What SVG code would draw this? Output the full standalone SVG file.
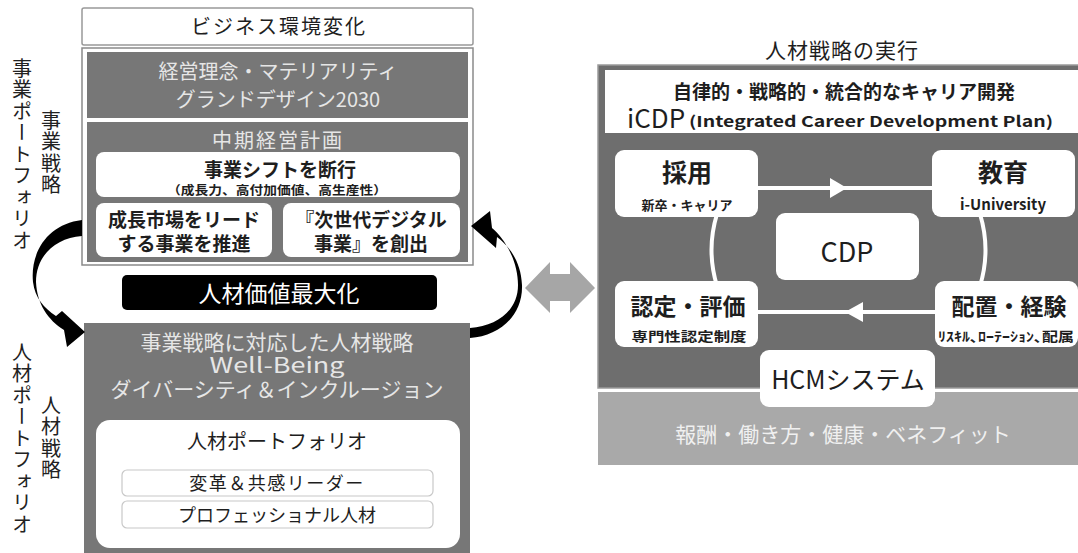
<svg xmlns="http://www.w3.org/2000/svg" width="1078" height="553" viewBox="0 0 1078 553">
<style>
text{font-family:"Noto Sans CJK JP","Noto Sans",sans-serif;}
.c{text-anchor:middle;}
.dk{fill:#777777;}
.lt{fill:#e6e6e6;}
.ink{fill:#1e1e1e;}
.wbox{fill:#ffffff;}
.vt{writing-mode:vertical-rl;font-size:20px;fill:#222;letter-spacing:1.5px;}
.wl{stroke:#ffffff;stroke-width:4;fill:none;}
</style>
<rect width="1078" height="553" fill="#ffffff"/>

<g id="side-labels">
<text class="vt" x="22" y="58">事業ポートフォリオ</text>
<text class="vt" x="51" y="110">事業戦略</text>
<text class="vt" x="22" y="342">人材ポートフォリオ</text>
<text class="vt" x="51" y="395">人材戦略</text>
</g>

<g id="business-env">
<rect x="82" y="8" width="391" height="37" rx="2" fill="#fff" stroke="#999" stroke-width="1.5"/>
<text class="c ink" x="279" y="34" font-size="20" letter-spacing="2">ビジネス環境変化</text>
</g>

<g id="business-frame">
<rect x="82" y="48" width="391" height="217" fill="#fff" stroke="#8a8a8a" stroke-width="1.5"/>
</g>

<g id="philosophy">
<rect class="dk" x="87" y="52" width="381" height="66"/>
<text class="c lt" x="278" y="79" font-size="20">経営理念・マテリアリティ</text>
<text class="c lt" x="278" y="107" font-size="20">グランドデザイン2030</text>
</g>

<g id="midterm">
<rect class="dk" x="87" y="122" width="381" height="140"/>
<text class="c lt" x="278" y="148" font-size="20" letter-spacing="2">中期経営計画</text>
</g>

<g id="shift">
<rect class="wbox" x="96" y="152" width="364" height="45" rx="8"/>
<text class="c ink" x="280" y="177" font-size="19" font-weight="bold">事業シフトを断行</text>
<text class="c ink" x="277" y="195" font-size="12" font-weight="bold" textLength="220" lengthAdjust="spacingAndGlyphs">（成長力、高付加価値、高生産性）</text>
</g>

<g id="growth">
<rect class="wbox" x="96" y="203" width="176" height="54" rx="8"/>
<text class="c ink" x="184" y="227" font-size="19" font-weight="bold">成長市場をリード</text>
<text class="c ink" x="184" y="251" font-size="19" font-weight="bold">する事業を推進</text>
</g>

<g id="digital">
<rect class="wbox" x="283" y="203" width="177" height="54" rx="8"/>
<text class="c ink" x="371" y="227" font-size="19" font-weight="bold">『次世代デジタル</text>
<text class="c ink" x="371" y="251" font-size="19" font-weight="bold">事業』を創出</text>
</g>

<g id="maximize">
<rect x="122" y="275" width="315" height="35" rx="5" fill="#000"/>
<text class="c" x="279" y="302" font-size="23" fill="#fff">人材価値最大化</text>
</g>

<g id="hr-strategy">
<rect class="dk" x="84" y="323" width="386" height="240"/>
<text class="c lt" x="277" y="350" font-size="21">事業戦略に対応した人材戦略</text>
<text class="c lt" x="277" y="373" font-size="21" font-family="'DejaVu Sans',sans-serif" textLength="135" lengthAdjust="spacingAndGlyphs">Well-Being</text>
<text class="c lt" x="277" y="397" font-size="21">ダイバーシティ＆インクルージョン</text>
</g>

<g id="hr-portfolio">
<rect class="wbox" x="96" y="420" width="364" height="128" rx="14"/>
<text class="c ink" x="277" y="449" font-size="20">人材ポートフォリオ</text>
<rect x="122" y="470" width="311" height="26" rx="5" fill="#fff" stroke="#c8c8c8" stroke-width="1.2"/>
<text class="c ink" x="277" y="490" font-size="18" letter-spacing="1.5">変革＆共感リーダー</text>
<rect x="122" y="501" width="311" height="27" rx="5" fill="#fff" stroke="#c8c8c8" stroke-width="1.2"/>
<text class="c ink" x="277" y="522" font-size="18">プロフェッショナル人材</text>
</g>

<g id="connectors">
<path fill="#000" d="M 82 220 C 48 224, 30 252, 33 282 C 35 298, 44 308, 56 316 L 62 311 L 85 332 L 67 347 L 64 330 C 48 320, 37 304, 36 282 C 36 256, 55 238, 82 236 Z"/>
<path fill="#000" d="M 470 338 C 500 336, 523 315, 522 285 C 521 262, 510 247, 497 237 L 496 248 L 471 226 L 490 211 L 492 228 C 506 240, 518 262, 518 285 C 518 310, 498 326, 470 328 Z"/>
<path fill="#a6a6a6" d="M 525 288 L 550 262 L 550 274 L 570 274 L 570 262 L 595 288 L 570 313 L 570 301 L 550 301 L 550 313 Z"/>
</g>

<g id="execution">
<text class="c ink" x="842" y="58" font-size="21" letter-spacing="1">人材戦略の実行</text>
<rect x="598" y="65" width="482" height="323" fill="#6e6e6e" stroke="#9a9a9a" stroke-width="1.5"/>
<rect x="605" y="70" width="475" height="63" fill="#fff"/>
<text class="c ink" x="844" y="99" font-size="19" font-weight="bold">自律的・戦略的・統合的なキャリア開発</text>
<text class="ink" x="627" y="128" font-size="26">iCDP</text>
<text class="ink" x="689" y="127" font-size="15" font-weight="bold" textLength="364" lengthAdjust="spacingAndGlyphs">(Integrated Career Development Plan)</text>
</g>

<g id="loop">
<path class="wl" d="M 717 188 H 978"/>
<path class="wl" d="M 717 312 H 978"/>
<path class="wl" d="M 717 214 Q 706 250 717 286"/>
<path class="wl" d="M 980 214 Q 991 250 980 286"/>
<path fill="#fff" d="M 847 188 L 830 178 L 830 198 Z"/>
<path fill="#fff" d="M 845 312 L 863 302 L 863 322 Z"/>
</g>

<g id="recruit">
<rect class="wbox" x="615" y="150" width="143" height="67" rx="9"/>
<text class="c ink" x="687" y="182" font-size="25" font-weight="bold">採用</text>
<text class="c ink" x="687" y="210" font-size="13" font-weight="bold">新卒・キャリア</text>
</g>

<g id="education">
<rect class="wbox" x="932" y="150" width="143" height="67" rx="9"/>
<text class="c ink" x="1003" y="182" font-size="25" font-weight="bold">教育</text>
<text class="c ink" x="1003" y="210" font-size="15" font-weight="bold">i-University</text>
</g>

<g id="cdp">
<rect class="wbox" x="776" y="213" width="143" height="67" rx="9"/>
<text class="c ink" x="847" y="262" font-size="27">CDP</text>
</g>

<g id="certify">
<rect class="wbox" x="615" y="281" width="143" height="66" rx="9"/>
<text class="c ink" x="688" y="315" font-size="23" font-weight="bold">認定・評価</text>
<text class="c ink" x="689" y="341" font-size="13" font-weight="bold" textLength="115" lengthAdjust="spacingAndGlyphs">専門性認定制度</text>
</g>

<g id="placement">
<rect class="wbox" x="935" y="281" width="143" height="66" rx="9"/>
<text class="c ink" x="1009" y="315" font-size="23" font-weight="bold">配置・経験</text>
<text class="c ink" x="1006" y="341" font-size="13" font-weight="bold" textLength="136" lengthAdjust="spacingAndGlyphs">ﾘｽｷﾙ､ﾛｰﾃｰｼｮﾝ､配属</text>
</g>

<g id="benefit">
<rect x="598" y="392" width="482" height="73" fill="#a9a9a9"/>
<text class="c" x="843" y="442" font-size="21" fill="#f0f0f0">報酬・働き方・健康・ベネフィット</text>
</g>

<g id="hcm">
<rect class="wbox" x="760" y="350" width="175" height="57" rx="9"/>
<text class="c ink" x="848" y="389" font-size="25">HCMシステム</text>
</g>
</svg>
